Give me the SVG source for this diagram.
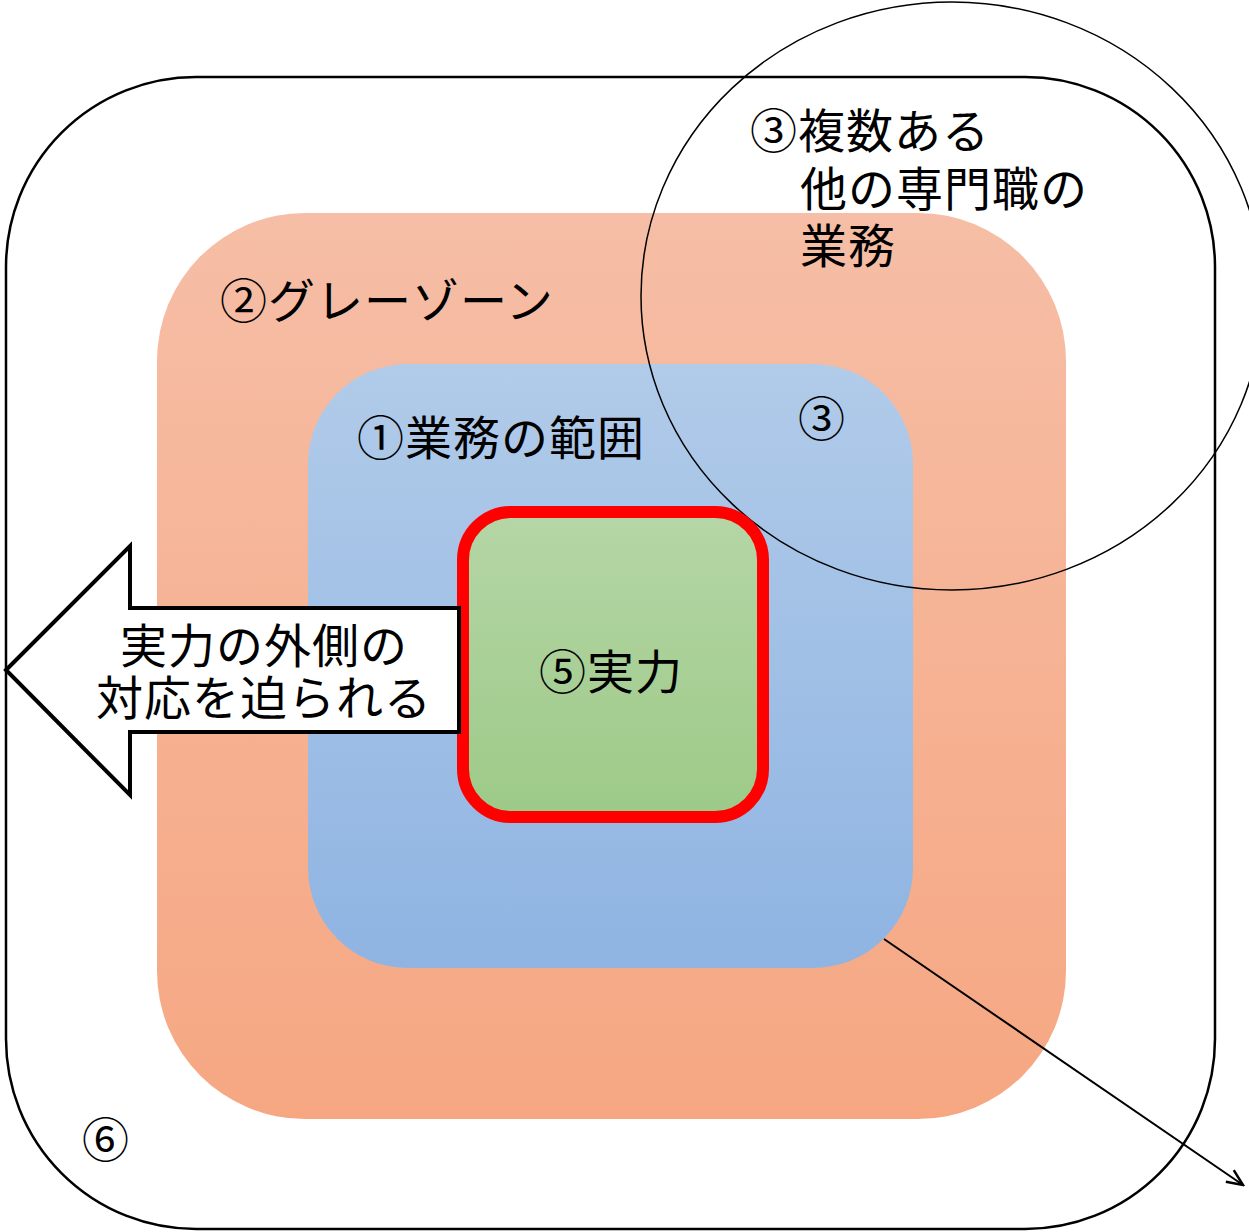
<svg xmlns="http://www.w3.org/2000/svg" width="1249" height="1232" viewBox="0 0 1249 1232">
<defs>
<linearGradient id="gOrange" x1="0" y1="0" x2="0" y2="1"><stop offset="0" stop-color="#F6BEA6"/><stop offset="1" stop-color="#F6A782"/></linearGradient>
<linearGradient id="gBlue" x1="0" y1="0" x2="0" y2="1"><stop offset="0" stop-color="#B1CBE9"/><stop offset="1" stop-color="#8FB4E2"/></linearGradient>
<linearGradient id="gGreen" x1="0" y1="0" x2="0" y2="1"><stop offset="0" stop-color="#B5D6A6"/><stop offset="1" stop-color="#9DCA88"/></linearGradient>
<marker id="openArrow" viewBox="0 0 20 20" refX="18" refY="10" markerWidth="20" markerHeight="20" markerUnits="userSpaceOnUse" orient="auto">
<path d="M2,3 L18,10 L2,17" fill="none" stroke="#000" stroke-width="2.5"/>
</marker>
<style>
.t{font-family:"Noto Sans CJK JP","Noto Sans",sans-serif;font-size:47px;fill:#000;letter-spacing:1px}
.m{text-anchor:middle}
</style>
</defs>
<g id="outer">
<rect x="6" y="77" width="1209" height="1152" rx="190" ry="190" fill="#fff" stroke="#000" stroke-width="2.5"/>
<text class="t" x="82" y="1157">⑥</text>
</g>
<g id="grayzone">
<rect x="157" y="213" width="909" height="906" rx="148" ry="148" fill="url(#gOrange)"/>
<text class="t" x="220" y="318">②グレーゾーン</text>
</g>
<g id="scope">
<rect x="308" y="364" width="605" height="604" rx="100" ry="100" fill="url(#gBlue)"/>
<text class="t" x="357" y="455">①業務の範囲</text>
</g>
<g id="other">
<ellipse cx="952" cy="296" rx="311" ry="294" fill="none" stroke="#000" stroke-width="1.5"/>
<text class="t" x="750" y="148">③複数ある</text>
<text class="t" x="800" y="206">他の専門職の</text>
<text class="t" x="800" y="263">業務</text>
<text class="t" x="798" y="436">③</text>
</g>
<g id="ability">
<rect x="463" y="512" width="300" height="305" rx="48" ry="48" fill="url(#gGreen)" stroke="#FF0000" stroke-width="12"/>
<text class="t m" x="611" y="689">⑤実力</text>
</g>
<g id="pressure">
<path d="M6,670 L130,546 L130,608 L459,608 L459,732 L130,732 L130,795 Z" fill="#fff" stroke="#000" stroke-width="4" stroke-linejoin="miter"/>
<text class="t m" x="264" y="663">実力の外側の</text>
<text class="t m" x="264" y="715">対応を迫られる</text>
</g>
<g id="connectors">
<line x1="884" y1="939" x2="1243" y2="1185" stroke="#000" stroke-width="2" marker-end="url(#openArrow)"/>
</g>
</svg>
